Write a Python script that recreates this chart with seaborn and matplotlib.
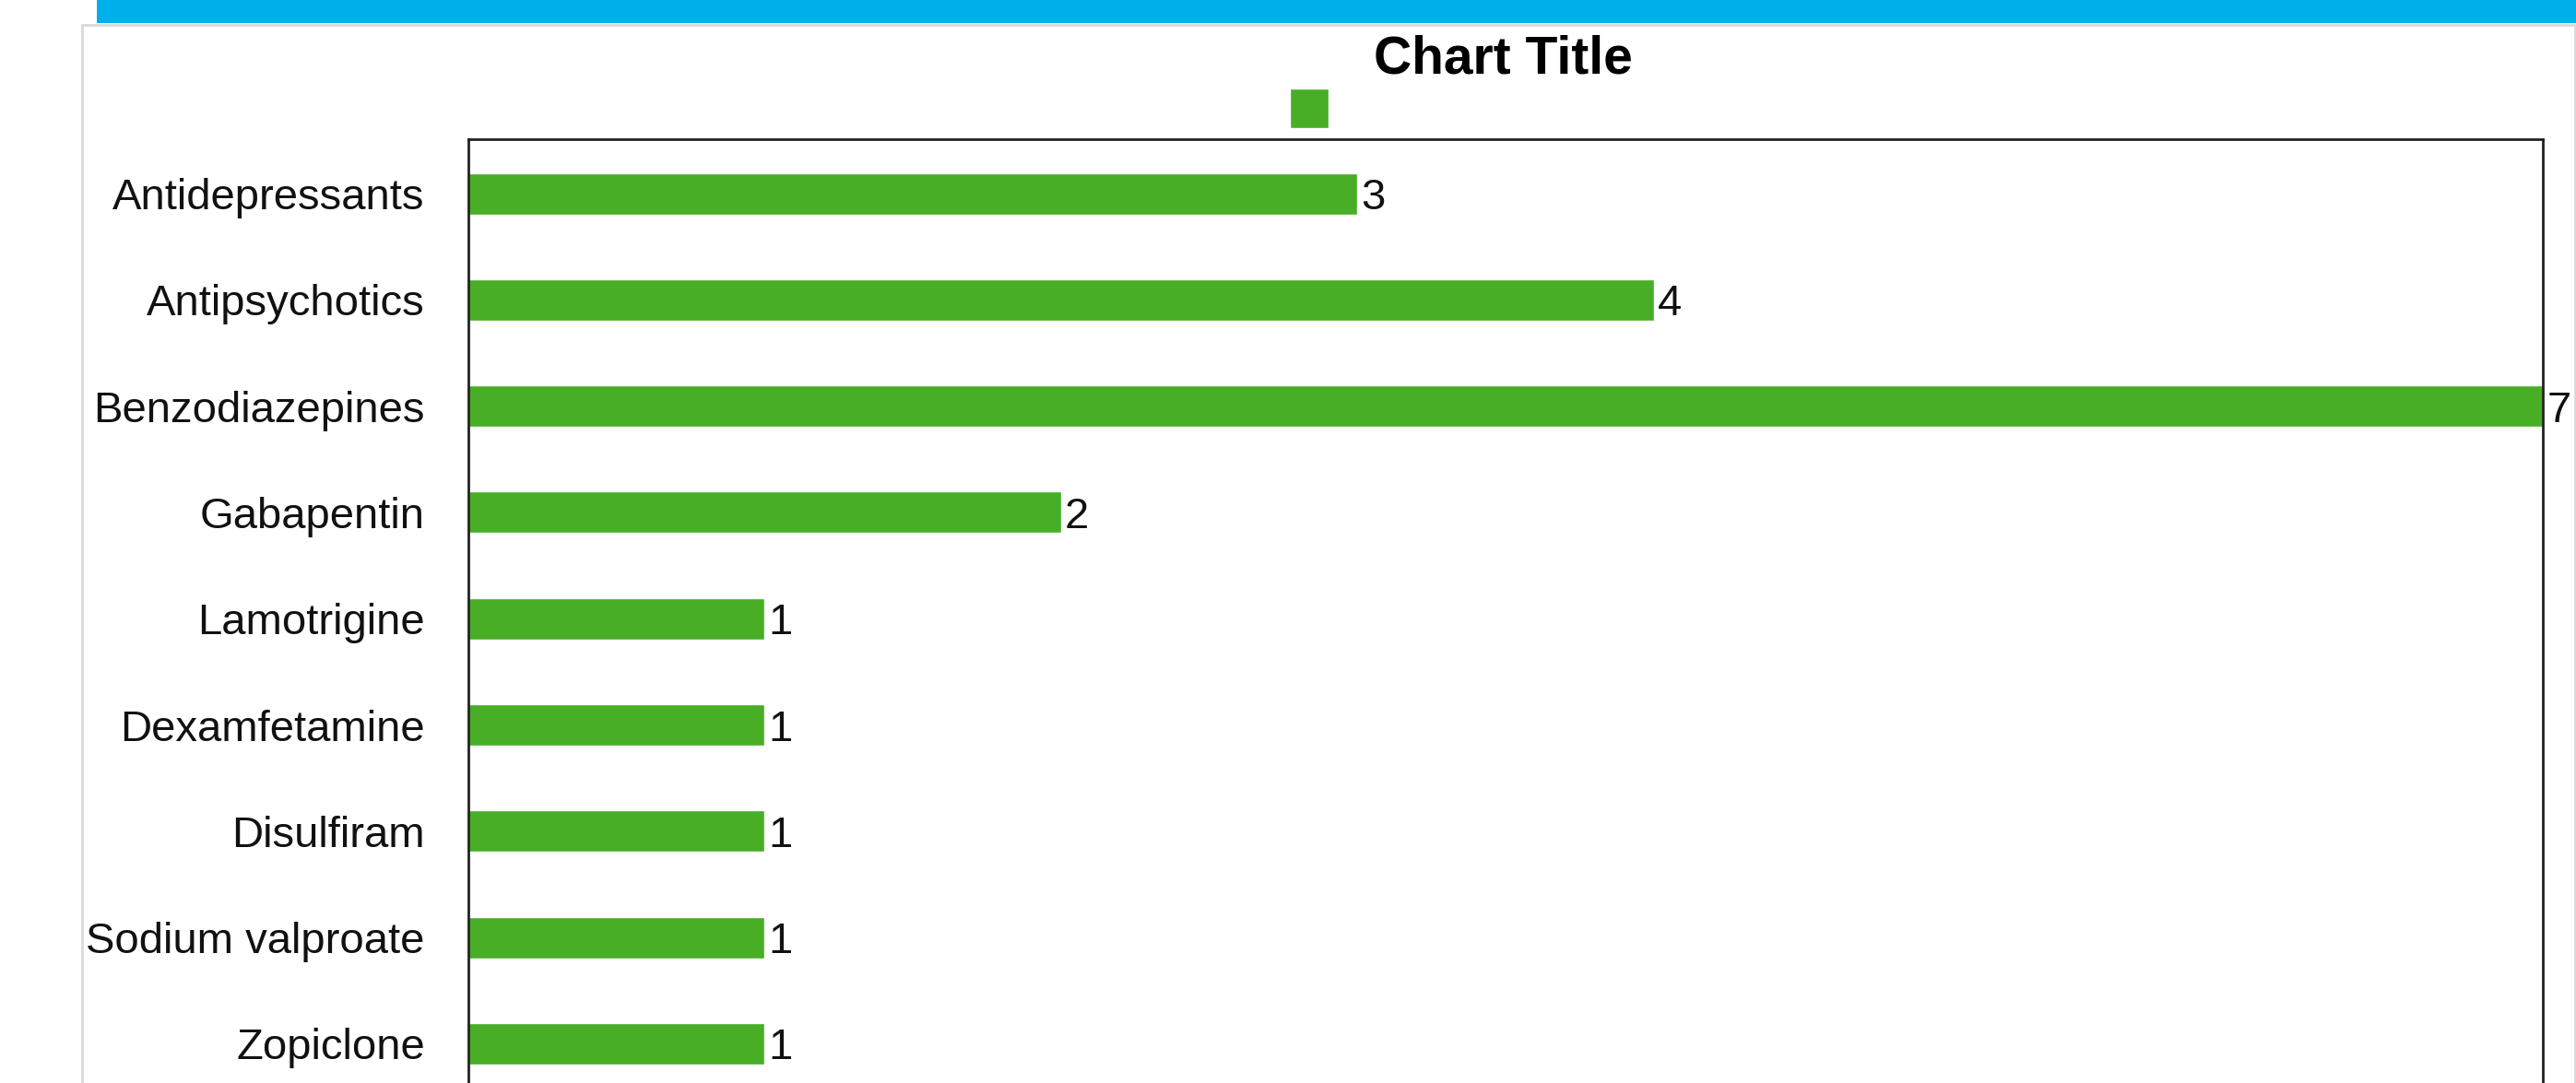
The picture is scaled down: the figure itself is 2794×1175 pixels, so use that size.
import matplotlib
matplotlib.use("Agg")
import matplotlib.pyplot as plt
import seaborn as sns
import pandas as pd
from matplotlib.patches import Rectangle

categories = ["Antidepressants", "Antipsychotics", "Benzodiazepines", "Gabapentin",
              "Lamotrigine", "Dexamfetamine", "Disulfiram", "Sodium valproate", "Zopiclone"]
counts = [3, 4, 7, 2, 1, 1, 1, 1, 1]

sns.set_theme(style="white")
plt.rcParams["font.family"] = ["Liberation Sans", "DejaVu Sans"]

W, H = 2794, 1175
fig = plt.figure(figsize=(W / 100, H / 100), dpi=100)

# page decoration: blue strip and light panel border (behind the axes)
fig.patches.append(Rectangle((105 / W, 1 - 25 / H), 1, 1, transform=fig.transFigure,
                             facecolor="#00B0EA", edgecolor="none", zorder=-2))
fig.patches.append(Rectangle((89 / W, -0.2), (2793 - 89) / W, 1.2 - 27 / H,
                             transform=fig.transFigure, facecolor="white",
                             edgecolor="#d9d9d9", linewidth=2, zorder=-1))

ax = fig.add_axes([508 / W, -0.0128, 2250 / W, 0.8843])
ax.set_facecolor("white")

df = pd.DataFrame({"Drug": categories, "Count": counts})
sns.barplot(data=df, x="Count", y="Drug", color="#48AE26", width=0.39,
            saturation=1, label=" ", ax=ax)

ax.set_xlim(0, 7)
ax.set_ylim(8.5, -0.512)
ax.set_xlabel("")
ax.set_ylabel("")
ax.set_xticks([])
ax.tick_params(axis="y", length=0, pad=34, labelsize=34, labelcolor="#111111")
for s in ax.spines.values():
    s.set_visible(True)
    s.set_color("#222222")
    s.set_linewidth(2)

ax.bar_label(ax.containers[0], padding=3, fontsize=34, color="#111111")
for t in ax.texts:
    t.set_clip_on(False)
    t.set_verticalalignment("center_baseline")

fig.text(1630 / W, 1 - 80 / H, "Chart Title", ha="center", va="baseline",
         fontsize=41, fontweight="bold", color="black")

ax.legend(loc="upper left", bbox_to_anchor=(1399 / W, 1 - 96 / H),
          bbox_transform=fig.transFigure, frameon=False, fontsize=30,
          handlelength=1.0, handleheight=1.2, borderpad=0, handletextpad=0,
          borderaxespad=0)

fig.savefig("out.png", dpi=100)
